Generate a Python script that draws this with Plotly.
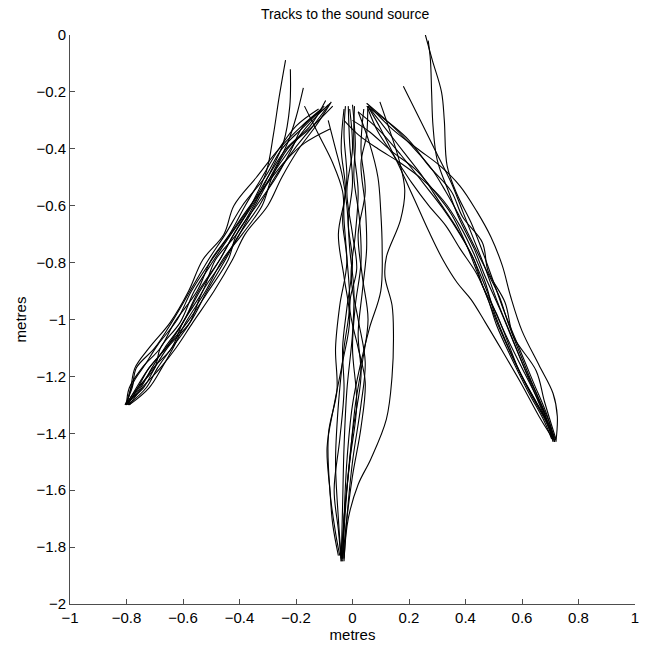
import plotly.graph_objects as go

# Each track: (x positions in metres, y positions in metres), start point to end point.
# Left-hand release point group
LY = [-1.30, -1.24, -1.17, -1.10, -1.01, -0.90, -0.79, -0.70, -0.60, -0.50, -0.40, -0.32]
L01 = ([-0.805, -0.78, -0.765, -0.70, -0.64, -0.575, -0.51, -0.45, -0.39, -0.31, -0.25, -0.17, -0.10],
       LY + [-0.25])
L02 = ([-0.80, -0.75, -0.71, -0.665, -0.60, -0.545, -0.47, -0.42, -0.355, -0.29, -0.22, -0.16, -0.085],
       LY + [-0.245])
L03 = ([-0.795, -0.73, -0.69, -0.64, -0.575, -0.53, -0.455, -0.40, -0.33, -0.275, -0.205, -0.14, -0.08],
       LY + [-0.24])
L04 = ([-0.79, -0.745, -0.68, -0.625, -0.565, -0.49, -0.425, -0.38, -0.30, -0.25, -0.19, -0.13, -0.075],
       LY + [-0.235])
L05 = ([-0.80, -0.785, -0.77, -0.72, -0.645, -0.58, -0.53, -0.455, -0.42, -0.34, -0.26, -0.18, -0.11],
       LY + [-0.26])
L06 = ([-0.805, -0.76, -0.70, -0.68, -0.61, -0.56, -0.49, -0.43, -0.36, -0.30, -0.235, -0.15, -0.095],
       LY + [-0.23])
L07 = ([-0.80, -0.765, -0.72, -0.66, -0.585, -0.51, -0.44, -0.41, -0.34, -0.27, -0.215, -0.175, -0.10],
       LY + [-0.26])
L08 = ([-0.79, -0.72, -0.675, -0.635, -0.59, -0.52, -0.46, -0.39, -0.32, -0.285, -0.23, -0.14, -0.07],
       LY + [-0.25])
L09 = ([-0.795, -0.775, -0.735, -0.69, -0.62, -0.57, -0.505, -0.44, -0.37, -0.30, -0.235, -0.17, -0.08],
       [-1.28, -1.22, -1.16, -1.09, -1.00, -0.90, -0.80, -0.71, -0.61, -0.52, -0.44, -0.38, -0.33])
L10 = ([-0.80, -0.79, -0.745, -0.68, -0.63, -0.55, -0.50, -0.435, -0.38, -0.32, -0.26, -0.20, -0.12],
       LY + [-0.26])
L11 = ([-0.795, -0.76, -0.72, -0.66, -0.60, -0.54, -0.47, -0.42, -0.36, -0.305, -0.28, -0.26, -0.237],
       [-1.30, -1.24, -1.17, -1.10, -1.01, -0.90, -0.79, -0.70, -0.60, -0.48, -0.35, -0.22, -0.088])
L12 = ([-0.80, -0.755, -0.705, -0.64, -0.60, -0.53, -0.485, -0.41, -0.35, -0.30, -0.245, -0.222, -0.22],
       [-1.30, -1.24, -1.17, -1.10, -1.01, -0.90, -0.79, -0.70, -0.60, -0.50, -0.38, -0.25, -0.12])
L13 = ([-0.80, -0.74, -0.70, -0.655, -0.575, -0.515, -0.45, -0.40, -0.345, -0.28, -0.23, -0.20, -0.174],
       [-1.29, -1.24, -1.17, -1.10, -1.01, -0.90, -0.79, -0.70, -0.60, -0.48, -0.38, -0.29, -0.186])

# Central release point group
M01 = ([-0.17, -0.12, -0.07, -0.035, -0.03, -0.02, -0.01, -0.03, -0.05, -0.06, -0.05, -0.04],
       [-0.25, -0.35, -0.45, -0.55, -0.65, -0.78, -0.95, -1.10, -1.30, -1.50, -1.70, -1.84])
M02 = ([-0.086, -0.06, -0.035, -0.02, -0.01, 0.005, 0.0, -0.02, -0.03, -0.035, -0.04],
       [-0.30, -0.40, -0.50, -0.60, -0.75, -0.90, -1.05, -1.25, -1.45, -1.65, -1.85])
M03 = ([-0.025, -0.03, -0.02, -0.035, -0.02, -0.045, -0.06, -0.055, -0.085, -0.08, -0.06, -0.045],
       [-0.25, -0.35, -0.50, -0.65, -0.80, -0.95, -1.10, -1.25, -1.40, -1.60, -1.75, -1.83])
M04 = ([-0.015, -0.01, 0.0, -0.015, 0.0, -0.02, -0.035, -0.03, -0.045, -0.065, -0.05, -0.04],
       [-0.25, -0.38, -0.52, -0.66, -0.80, -0.96, -1.10, -1.25, -1.42, -1.60, -1.74, -1.85])
M05 = ([0.0, 0.01, 0.005, 0.025, 0.03, 0.01, 0.0, 0.015, -0.01, -0.03, -0.035],
       [-0.245, -0.38, -0.50, -0.65, -0.80, -0.95, -1.10, -1.30, -1.50, -1.70, -1.84])
M06 = ([0.007, 0.005, 0.02, 0.01, -0.005, 0.02, 0.045, 0.03, 0.0, -0.02, -0.03],
       [-0.25, -0.40, -0.55, -0.70, -0.85, -1.00, -1.15, -1.30, -1.50, -1.70, -1.85])
M07 = ([0.054, 0.05, 0.03, 0.045, 0.05, 0.035, 0.02, 0.03, 0.0, -0.02, -0.035],
       [-0.25, -0.35, -0.45, -0.60, -0.75, -0.90, -1.05, -1.20, -1.40, -1.60, -1.84])
M08 = ([0.02, 0.06, 0.09, 0.10, 0.105, 0.10, 0.06, 0.03, 0.0, -0.02, -0.03, -0.035],
       [-0.27, -0.38, -0.50, -0.62, -0.75, -0.90, -1.03, -1.15, -1.30, -1.50, -1.70, -1.84])
M09 = ([0.097, 0.13, 0.165, 0.185, 0.17, 0.12, 0.115, 0.14, 0.145, 0.14, 0.12, 0.065, 0.02, -0.015, -0.03],
       [-0.235, -0.33, -0.44, -0.545, -0.65, -0.78, -0.85, -0.95, -1.05, -1.20, -1.35, -1.49, -1.58, -1.70, -1.84])
M10 = ([-0.03, -0.04, -0.025, -0.05, -0.03, -0.01, -0.035, -0.065, -0.09, -0.08, -0.07, -0.05],
       [-0.26, -0.40, -0.55, -0.70, -0.85, -1.00, -1.15, -1.30, -1.45, -1.60, -1.72, -1.83])
M11 = ([-0.01, 0.0, -0.02, 0.0, 0.015, -0.01, 0.02, 0.045, 0.03, 0.0, -0.02, -0.035],
       [-0.26, -0.40, -0.55, -0.70, -0.82, -0.95, -1.10, -1.22, -1.38, -1.55, -1.70, -1.85])
M12 = ([0.04, 0.03, 0.045, 0.02, 0.035, 0.055, 0.035, 0.01, -0.01, -0.03, -0.04],
       [-0.26, -0.40, -0.55, -0.70, -0.85, -1.00, -1.15, -1.30, -1.50, -1.70, -1.84])

# Right-hand release point group
R01 = ([0.054, 0.10, 0.16, 0.22, 0.27, 0.32, 0.37, 0.42, 0.47, 0.53, 0.60, 0.66, 0.71],
       [-0.25, -0.33, -0.45, -0.58, -0.69, -0.79, -0.87, -0.93, -1.01, -1.11, -1.23, -1.34, -1.42])
R02 = ([0.054, 0.11, 0.18, 0.25, 0.31, 0.37, 0.42, 0.46, 0.50, 0.55, 0.61, 0.67, 0.715],
       [-0.25, -0.32, -0.41, -0.50, -0.59, -0.68, -0.77, -0.86, -0.96, -1.07, -1.19, -1.31, -1.425])
R03 = ([0.05, 0.12, 0.20, 0.27, 0.35, 0.39, 0.46, 0.48, 0.54, 0.57, 0.65, 0.68, 0.72],
       [-0.24, -0.30, -0.37, -0.46, -0.55, -0.64, -0.73, -0.83, -0.94, -1.06, -1.18, -1.29, -1.42])
R04 = ([0.06, 0.14, 0.23, 0.31, 0.38, 0.44, 0.49, 0.53, 0.56, 0.60, 0.66, 0.71, 0.725, 0.72],
       [-0.25, -0.33, -0.40, -0.46, -0.53, -0.62, -0.71, -0.81, -0.92, -1.04, -1.16, -1.26, -1.34, -1.43])
R05 = ([0.00, 0.06, 0.14, 0.22, 0.29, 0.35, 0.40, 0.44, 0.48, 0.52, 0.57, 0.63, 0.69, 0.71],
       [-0.30, -0.34, -0.41, -0.47, -0.55, -0.63, -0.73, -0.83, -0.93, -1.03, -1.14, -1.26, -1.37, -1.43])
R06 = ([0.02, 0.09, 0.17, 0.25, 0.32, 0.38, 0.43, 0.46, 0.51, 0.55, 0.59, 0.65, 0.70, 0.715],
       [-0.27, -0.33, -0.42, -0.52, -0.61, -0.70, -0.79, -0.88, -0.98, -1.08, -1.18, -1.29, -1.38, -1.43])
R07 = ([-0.03, 0.02, 0.09, 0.17, 0.25, 0.32, 0.38, 0.43, 0.47, 0.50, 0.54, 0.59, 0.65, 0.70, 0.72],
       [-0.30, -0.35, -0.40, -0.45, -0.51, -0.58, -0.67, -0.77, -0.87, -0.97, -1.07, -1.18, -1.29, -1.38, -1.425])
R08 = ([0.258, 0.283, 0.315, 0.325, 0.335, 0.37, 0.42, 0.46, 0.50, 0.54, 0.59, 0.64, 0.69, 0.715],
       [0.0, -0.09, -0.20, -0.30, -0.46, -0.56, -0.66, -0.76, -0.87, -0.98, -1.10, -1.22, -1.34, -1.43])
R09 = ([0.268, 0.276, 0.28, 0.285, 0.30, 0.34, 0.38, 0.43, 0.47, 0.52, 0.57, 0.62, 0.675, 0.71],
       [-0.02, -0.09, -0.20, -0.32, -0.44, -0.55, -0.65, -0.75, -0.85, -0.96, -1.08, -1.20, -1.33, -1.42])
R10 = ([0.18, 0.24, 0.30, 0.35, 0.39, 0.43, 0.47, 0.51, 0.555, 0.60, 0.655, 0.70, 0.715],
       [-0.18, -0.30, -0.42, -0.52, -0.62, -0.72, -0.82, -0.93, -1.04, -1.15, -1.27, -1.37, -1.425])
R11 = ([0.055, 0.09, 0.15, 0.21, 0.27, 0.33, 0.38, 0.44, 0.48, 0.51, 0.56, 0.62, 0.68, 0.705],
       [-0.26, -0.34, -0.43, -0.52, -0.60, -0.67, -0.75, -0.84, -0.93, -1.02, -1.13, -1.25, -1.36, -1.42])
R12 = ([0.05, 0.13, 0.21, 0.28, 0.33, 0.375, 0.42, 0.47, 0.52, 0.55, 0.585, 0.63, 0.68, 0.71],
       [-0.25, -0.31, -0.39, -0.47, -0.55, -0.63, -0.72, -0.82, -0.92, -1.01, -1.10, -1.21, -1.33, -1.42])

TRACKS = [L01, L02, L03, L04, L05, L06, L07, L08, L09, L10, L11, L12, L13,
          M01, M02, M03, M04, M05, M06, M07, M08, M09, M10, M11, M12,
          R01, R02, R03, R04, R05, R06, R07, R08, R09, R10, R11, R12]

TICKS_X = [-1, -0.8, -0.6, -0.4, -0.2, 0, 0.2, 0.4, 0.6, 0.8, 1]
TICKS_Y = [0, -0.2, -0.4, -0.6, -0.8, -1, -1.2, -1.4, -1.6, -1.8, -2]

FONT = "Liberation Sans, Arial, Helvetica, sans-serif"


def tick_text(values):
    return [("\u2212" if v < 0 else "") + f"{abs(v):g}" for v in values]


fig = go.Figure()
for xs, ys in TRACKS:
    fig.add_trace(go.Scatter(
        x=xs, y=ys, mode="lines",
        line=dict(color="black", width=1.1, shape="spline", smoothing=1.0),
        showlegend=False, hoverinfo="skip",
    ))

axis_common = dict(
    showgrid=False, zeroline=False, showline=True, linecolor="#4d4d4d", linewidth=1,
    ticks="inside", ticklen=5, tickcolor="#4d4d4d", tickwidth=1,
    tickfont=dict(family=FONT, size=15, color="black"),
    mirror=False,
)

fig.update_layout(
    width=645, height=648,
    margin=dict(l=70, r=6, t=35, b=44),
    paper_bgcolor="white", plot_bgcolor="white",
    title=dict(text="Tracks to the sound source", x=0.535, xanchor="center",
               y=0.978, yanchor="middle",
               font=dict(family=FONT, size=14, color="black")),
    xaxis=dict(range=[-1, 1], tickvals=TICKS_X, ticktext=tick_text(TICKS_X),
               title=dict(text="metres", font=dict(family=FONT, size=15, color="black"), standoff=0),
               **axis_common),
    yaxis=dict(range=[-2, 0], tickvals=TICKS_Y, ticktext=tick_text(TICKS_Y),
               title=dict(text="metres", font=dict(family=FONT, size=15, color="black"), standoff=6),
               **axis_common),
)

fig.write_html("out.html")
